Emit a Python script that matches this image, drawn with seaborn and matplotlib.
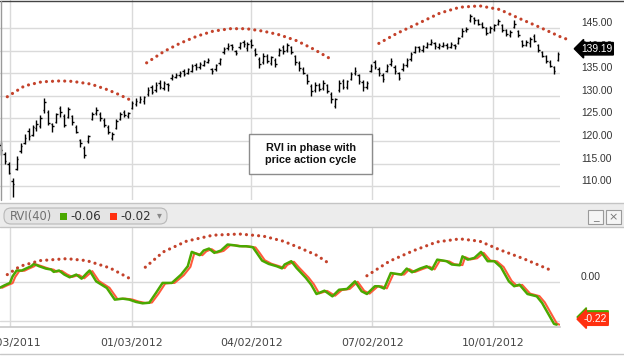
import numpy as np
import pandas as pd
import matplotlib
matplotlib.use("Agg")
import matplotlib.pyplot as plt
import matplotlib.transforms as mtransforms
from matplotlib.patches import Rectangle, FancyBboxPatch
from matplotlib.lines import Line2D
import seaborn as sns


# x axis unit: calendar days after this date
START = pd.Timestamp("2011-09-25")
tick_dates = ["10/03/2011", "01/03/2012", "04/02/2012", "07/02/2012", "10/01/2012"]
price_ticks = [110, 115, 120, 125, 130, 135, 140, 145]

# price bars (one every 3 days)
bar_open = [
    119.2, 117.2, 115.0, 111.2, 113.9, 117.8, 119.6, 122.2, 121.4, 122.8,
    123.4, 126.8, 126.4, 123.7, 124.3, 127.2, 125.6, 125.3, 125.5, 123.2,
    120.2, 118.5, 119.9, 124.9, 126.1, 126.0, 124.7, 123.2, 120.7, 122.9,
    124.9, 126.5, 125.6, 127.3, 128.1, 128.7, 128.8, 130.4, 131.9, 131.2,
    132.9, 131.7, 132.6, 133.9, 134.2, 134.5, 135.4, 135.1, 135.6, 136.9,
    136.3, 136.9, 137.5, 135.9, 135.9, 137.2, 139.6, 140.5, 141.2, 139.9,
    140.7, 141.8, 140.5, 142.1, 140.2, 138.2, 137.4, 138.8, 137.2, 138.0,
    139.1, 140.7, 140.2, 140.8, 138.7, 137.2, 136.0, 134.6, 132.2, 131.2,
    132.4, 131.7, 132.3, 130.5, 127.7, 131.2, 133.3, 132.0, 133.8, 135.0,
    134.5, 133.0, 131.9, 135.6, 137.4, 136.0, 134.7, 135.6, 137.0, 136.4,
    135.0, 135.9, 136.8, 138.2, 139.7, 140.8, 140.2, 140.9, 141.5, 141.6,
    140.8, 141.1, 141.3, 140.9, 141.3, 141.7, 143.3, 144.5, 146.8, 147.2,
    146.7, 146.0, 145.0, 144.1, 144.8, 145.9, 145.6, 144.5, 143.4, 145.2,
    144.4, 142.2, 141.3, 141.6, 143.2, 141.3, 139.8, 138.7, 137.5, 136.4,
    137.9,
]
bar_low = [
    117.0, 115.0, 112.6, 107.7, 113.5, 117.4, 119.3, 120.3, 121.0, 122.3,
    122.8, 126.3, 123.5, 121.9, 124.0, 125.4, 123.0, 125.0, 123.6, 121.8,
    118.6, 116.3, 119.6, 124.6, 125.8, 124.4, 123.2, 121.5, 120.3, 122.6,
    124.6, 125.4, 125.2, 127.0, 127.8, 128.4, 128.3, 130.0, 130.3, 130.8,
    131.6, 131.3, 131.1, 133.6, 133.9, 134.2, 134.4, 134.8, 135.3, 135.7,
    136.0, 136.6, 137.2, 134.9, 135.6, 136.9, 139.3, 140.1, 140.2, 139.0,
    140.4, 140.9, 140.0, 140.6, 138.8, 136.2, 137.0, 137.2, 136.8, 136.4,
    138.8, 139.3, 139.8, 139.3, 136.8, 135.6, 134.8, 132.6, 130.0, 130.8,
    131.0, 131.3, 130.6, 128.5, 127.2, 130.8, 131.5, 131.6, 133.4, 134.6,
    132.6, 131.1, 131.5, 135.3, 136.0, 134.4, 133.0, 135.3, 136.6, 134.8,
    133.4, 135.6, 136.4, 137.8, 139.4, 139.7, 139.8, 140.6, 141.2, 140.4,
    140.4, 140.8, 140.4, 140.6, 140.4, 141.4, 143.0, 144.1, 146.4, 146.0,
    145.6, 144.9, 143.4, 143.8, 144.3, 145.6, 144.2, 143.2, 143.0, 144.9,
    143.0, 140.8, 141.0, 140.9, 141.9, 139.8, 138.6, 137.2, 136.3, 134.9,
    137.6,
]
bar_high = [
    119.7, 117.5, 115.4, 111.8, 116.6, 119.6, 121.5, 122.8, 123.5, 124.6,
    125.8, 129.5, 126.9, 124.0, 126.3, 127.8, 126.0, 127.6, 125.8, 123.6,
    120.5, 118.9, 121.4, 126.5, 127.6, 126.4, 125.0, 123.5, 122.0, 124.8,
    126.5, 126.9, 126.5, 128.8, 129.5, 129.9, 130.0, 131.9, 132.4, 133.0,
    133.4, 133.2, 132.9, 134.9, 135.0, 135.6, 135.9, 136.2, 137.0, 137.2,
    137.5, 138.0, 138.4, 136.2, 137.0, 138.4, 140.9, 141.6, 141.5, 140.2,
    141.9, 142.3, 142.0, 142.6, 140.6, 138.6, 139.4, 139.3, 138.9, 138.3,
    140.6, 141.3, 141.6, 141.0, 139.0, 137.6, 136.4, 134.9, 132.6, 133.0,
    132.8, 133.4, 132.6, 130.8, 129.6, 133.4, 133.8, 133.6, 135.3, 136.4,
    134.9, 133.4, 133.2, 137.1, 137.9, 136.4, 135.0, 137.0, 138.3, 136.8,
    135.3, 137.2, 138.4, 139.8, 141.0, 141.1, 141.3, 142.0, 142.6, 141.8,
    141.6, 141.9, 141.6, 141.9, 141.5, 143.0, 144.9, 145.2, 148.2, 147.4,
    147.0, 146.4, 145.2, 145.4, 146.0, 147.1, 145.8, 144.8, 144.5, 146.7,
    144.6, 142.4, 142.3, 143.0, 143.7, 141.5, 140.0, 139.0, 137.9, 136.7,
    139.7,
]
bar_close = [
    118.0, 115.6, 113.0, 110.5, 116.0, 119.0, 120.6, 121.0, 123.0, 123.8,
    125.2, 128.6, 124.0, 123.4, 125.9, 126.5, 123.6, 127.0, 124.2, 122.0,
    119.5, 116.8, 121.0, 126.0, 126.9, 125.0, 123.6, 122.0, 121.6, 124.4,
    126.0, 125.8, 126.2, 128.4, 128.9, 129.2, 129.8, 131.3, 130.8, 132.5,
    132.0, 132.8, 132.5, 134.4, 134.6, 135.1, 134.9, 135.9, 136.6, 136.4,
    137.1, 137.6, 138.0, 135.4, 136.8, 138.1, 140.4, 141.0, 140.7, 139.5,
    141.6, 141.4, 141.5, 141.2, 139.3, 137.0, 138.9, 137.8, 138.5, 137.0,
    140.2, 140.0, 141.2, 139.8, 137.4, 136.2, 135.1, 133.2, 131.0, 132.4,
    131.5, 132.9, 131.0, 129.2, 129.3, 132.8, 132.0, 133.2, 134.8, 135.4,
    133.2, 132.0, 132.8, 136.7, 136.4, 135.0, 133.8, 136.5, 137.6, 135.4,
    134.0, 136.9, 137.9, 139.2, 140.7, 140.3, 141.0, 141.5, 141.8, 141.0,
    141.2, 141.3, 140.8, 141.5, 141.0, 142.8, 144.4, 144.8, 147.6, 146.8,
    146.0, 145.3, 144.0, 145.0, 145.6, 146.5, 144.6, 143.6, 144.2, 146.0,
    143.4, 141.2, 141.8, 142.6, 142.2, 140.1, 138.9, 137.6, 136.6, 135.6,
    139.19,
]
bar_day = np.arange(1, 1 + 3 * len(bar_low), 3)

# RVI(40) (green) and its signal line (red)
rvi_day = [0, 4, 8, 10, 13, 17, 20, 24, 26, 30, 35, 39, 41, 45, 49, 53, 58, 62, 66, 68,
           73, 81, 87, 93, 98, 103, 108, 113, 118, 123, 127, 130, 137, 142, 145, 151, 154, 158, 162, 167,
           172, 177, 181, 186, 191, 194, 198, 203, 209, 213, 215, 220, 224, 231, 235, 239, 245, 251, 256, 262,
           268, 273, 277, 283, 286, 290, 295, 303, 307, 311, 317, 322, 326, 330, 337, 341, 347, 349, 353, 358,
           363, 368, 373, 378, 384, 388, 392, 398, 405, 409, 414, 418, 420]
rvi_val = [-0.031, -0.017, -0.005, 0.029, 0.059, 0.059, 0.069, 0.081, 0.093, 0.081,
           0.069, 0.064, 0.052, 0.059, 0.038, 0.024, 0.038, 0.017, 0.046, 0.059,
           0.003, -0.031, -0.091, -0.086, -0.091, -0.103, -0.110, -0.107, -0.057, -0.005,
           -0.005, -0.005, 0.038, 0.081, 0.155, 0.138, 0.162, 0.172, 0.150, 0.162,
           0.193, 0.189, 0.184, 0.184, 0.179, 0.150, 0.110, 0.093, 0.081, 0.070,
           0.090, 0.107, 0.072, 0.021, -0.014, -0.062, -0.045, -0.074, -0.040, -0.036,
           0.003, -0.048, -0.062, -0.022, -0.022, -0.034, 0.046, 0.038, 0.069, 0.050,
           0.069, 0.081, 0.064, 0.115, 0.107, 0.090, 0.086, 0.132, 0.115, 0.124,
           0.155, 0.107, 0.107, 0.076, 0.003, -0.022, -0.014, -0.062, -0.074, -0.108,
           -0.168, -0.216, -0.220]
sig_day = [2, 6, 10, 12, 15, 19, 22, 26, 28, 32, 37, 41, 43, 47, 51, 55, 60, 64, 68, 70,
           75, 83, 89, 95, 100, 105, 110, 115, 120, 125, 129, 132, 139, 144, 147, 153, 156, 160, 164, 169,
           174, 179, 183, 188, 193, 196, 200, 205, 211, 215, 217, 222, 226, 233, 237, 241, 247, 253, 258, 264,
           270, 275, 279, 285, 288, 292, 297, 305, 309, 313, 319, 324, 328, 332, 339, 343, 349, 351, 355, 360,
           365, 370, 375, 380, 386, 390, 394, 400, 407, 411, 416, 420, 422]
sig_val = [-0.030, -0.017, -0.006, 0.026, 0.056, 0.058, 0.068, 0.080, 0.090, 0.081,
           0.069, 0.063, 0.053, 0.057, 0.039, 0.026, 0.036, 0.019, 0.043, 0.056,
           0.005, -0.030, -0.088, -0.086, -0.090, -0.101, -0.108, -0.106, -0.060, -0.008,
           -0.005, -0.005, 0.035, 0.078, 0.150, 0.138, 0.158, 0.169, 0.151, 0.160,
           0.190, 0.188, 0.184, 0.183, 0.178, 0.151, 0.112, 0.094, 0.081, 0.071,
           0.088, 0.104, 0.073, 0.023, -0.012, -0.059, -0.046, -0.071, -0.042, -0.036,
           0.001, -0.046, -0.060, -0.024, -0.022, -0.033, 0.042, 0.038, 0.066, 0.051,
           0.067, 0.079, 0.065, 0.111, 0.106, 0.091, 0.087, 0.128, 0.116, 0.122,
           0.150, 0.110, 0.106, 0.077, 0.006, -0.020, -0.015, -0.060, -0.073, -0.105,
           -0.165, -0.213, -0.220]

# dotted cycle arcs drawn by hand on the chart
arc_price = [
    ([6, 19, 32, 46, 55, 69, 82, 90, 98.5],
     [129.8, 132.2, 133.1, 133.3, 133.2, 132.6, 131.3, 130.3, 129.1]),
    ([111, 124, 136, 149, 161, 174, 186, 199, 211, 224, 237, 250],
     [137.3, 139.8, 141.6, 143.2, 144.3, 144.85, 144.85, 144.3, 143.5, 142.2, 140.3, 138.1]),
    ([286, 299.5, 317, 332, 347, 362, 377, 392, 407, 422.5, 427],
     [141.6, 143.8, 146.2, 148.3, 149.6, 149.9, 149.1, 147.1, 145.2, 143.1, 142.6]),
]
arc_rvi = [
    ([6, 15.6, 30.6, 50.8, 65.8, 83.4, 98.5],
     [0.038, 0.081, 0.110, 0.120, 0.110, 0.072, 0.017]),
    ([110, 123.6, 141, 161, 181, 199, 214, 226.6, 239, 249],
     [0.076, 0.155, 0.210, 0.241, 0.247, 0.236, 0.210, 0.175, 0.138, 0.093]),
    ([277, 294, 312, 329.6, 347, 362, 377, 395, 417.5],
     [0.032, 0.107, 0.161, 0.206, 0.222, 0.210, 0.166, 0.120, 0.055]),
]

tick_day = [(pd.to_datetime(d, format="%m/%d/%Y") - START).days for d in tick_dates]

sns.set_theme(style="white")
plt.rcParams["font.family"] = ["DejaVu Sans"]

W, H = 624, 357
GRID = "#dadada"
DOT = "#c4422b"


def fx(px):
    return px / W


def fy(py):
    return 1 - py / H


fig = plt.figure(figsize=(6.24, 3.57), dpi=100)
fig.patch.set_facecolor("white")
pix = fig.dpi_scale_trans  # inches, so pixel/100

# ---- upper panel: price bars ----
ax1 = fig.add_axes([fx(0), fy(200), fx(560), 200 / H])
ax1.set_facecolor("white")
ax1.vlines(bar_day, bar_low, bar_high, color="black", lw=1.0)
ax1.hlines(bar_open, bar_day - 1.1, bar_day, color="black", lw=1.0)
ax1.hlines(bar_close, bar_day, bar_day + 1.1, color="black", lw=1.0)
ax1.set_xlim(0.5, 422.5)
ax1.set_ylim(106.95, 151.2)
ax1.set_xticks(tick_day)
ax1.set_yticks(price_ticks)
ax1.set_yticklabels([f"{v:.2f}" for v in price_ticks])
ax1.grid(True, color=GRID, lw=1.0)
ax1.set_axisbelow(True)
ax1.yaxis.tick_right()
ax1.tick_params(axis="x", length=0, labelbottom=False)
ax1.tick_params(axis="y", length=0, pad=15, labelsize=7.4, labelcolor="#333333")
for lbl in ax1.get_yticklabels():
    lbl.set_family("Liberation Sans")
    lbl.set_va("bottom")
for s in ax1.spines.values():
    s.set_visible(False)
for xs, ys in arc_price:
    ax1.plot(xs, ys, color=DOT, lw=2.3, linestyle=(0, (0.01, 1.9)),
             dash_capstyle="round", clip_on=False, zorder=4)

right1 = mtransforms.blended_transform_factory(ax1.transAxes, ax1.transData)
ax1.annotate("139.19", xy=(1, 139.19), xycoords=right1, xytext=(15, 4), textcoords="offset points",
             ha="left", va="center", color="white", fontsize=7.4, family="Liberation Sans",
             bbox=dict(boxstyle="larrow,pad=0.12", fc="black", ec="black"))

# ---- lower panel: RVI ----
ax2 = fig.add_axes([fx(0), fy(327), fx(560), 99 / H])
ax2.set_facecolor("white")
sns.lineplot(x=sig_day, y=sig_val, ax=ax2, color="#ff5a3c", lw=1.5, sort=False)
sns.lineplot(x=rvi_day, y=rvi_val, ax=ax2, color="#4aa800", lw=1.8, sort=False)
for xs, ys in arc_rvi:
    ax2.plot(xs, ys, color=DOT, lw=2.3, linestyle=(0, (0.01, 1.9)),
             dash_capstyle="round", clip_on=False, zorder=4)
ax2.set_xlim(0.5, 422.5)
ax2.set_ylim(-0.232, 0.278)
ax2.set_xticks(tick_day)
ax2.set_xticklabels(tick_dates)
ax2.set_yticks([-0.2, 0.0])
ax2.set_yticklabels(["", "0.00"])
ax2.grid(True, color=GRID, lw=1.0)
ax2.set_axisbelow(True)
ax2.yaxis.tick_right()
ax2.tick_params(axis="x", length=0, pad=8, labelsize=7.8, labelcolor="#444444")
ax2.tick_params(axis="y", length=0, pad=14.5, labelsize=7.4, labelcolor="#333333")
for lbl in ax2.get_yticklabels():
    lbl.set_family("Liberation Sans")
    lbl.set_va("bottom")
for name, s in ax2.spines.items():
    s.set_visible(name == "bottom")
ax2.spines["bottom"].set_color("#c8c8c8")
ax2.spines["bottom"].set_linewidth(1.2)

right2 = mtransforms.blended_transform_factory(ax2.transAxes, ax2.transData)
ax2.annotate("-0.22", xy=(1, -0.22), xycoords=right2, xytext=(17, 5.5), textcoords="offset points",
             ha="left", va="center", color="#4aa800", fontsize=7.4, family="Liberation Sans",
             bbox=dict(boxstyle="larrow,pad=0.12", fc="#4aa800", ec="#4aa800"))
ax2.annotate("-0.22", xy=(1, -0.22), xycoords=right2, xytext=(17, 4), textcoords="offset points",
             ha="left", va="center", color="white", fontsize=7.4, family="Liberation Sans",
             bbox=dict(boxstyle="larrow,pad=0.12", fc="#ff3010", ec="#ff3010"))

# ---- header strip of the RVI pane ----
fig.patches.append(Rectangle((0, (H - 227) / 100), W / 100, 24 / 100, transform=pix,
                             fc="#ececec", ec="none", zorder=0))
for py, c in [(203, "#c4c4c4"), (227, "#c4c4c4"), (1, "#444444"), (354, "#c8c8c8")]:
    fig.lines.append(Line2D([0, W / 100], [(H - py) / 100] * 2, transform=pix, color=c, lw=1.0))
fig.lines.append(Line2D([0.005, 0.005], [(H - 200) / 100, (H - 1) / 100], transform=pix,
                        color="#9a9a9a", lw=1.0))
fig.patches.append(FancyBboxPatch((4 / 100, (H - 224) / 100), 163 / 100, 16 / 100, transform=pix,
                                  boxstyle="round,pad=0,rounding_size=0.07",
                                  fc="#e4e4e4", ec="#b8b8b8", lw=0.8))
fig.text(fx(10), fy(216.5), "RVI(40)", ha="left", va="center", fontsize=8.3, color="#707070")
fig.patches.append(Rectangle((60 / 100, (H - 220) / 100), 7 / 100, 7 / 100, transform=pix,
                             fc="#4aa800", ec="none"))
fig.text(fx(70), fy(216.5), "-0.06", ha="left", va="center", fontsize=8.6, color="#333333")
fig.patches.append(Rectangle((110 / 100, (H - 220) / 100), 7 / 100, 7 / 100, transform=pix,
                             fc="#ff3010", ec="none"))
fig.text(fx(120), fy(216.5), "-0.02", ha="left", va="center", fontsize=8.6, color="#333333")
fig.text(fx(159.5), fy(215.5), "▾", ha="center", va="center", fontsize=7, color="#888888")
for bx, glyph in [(588, "_"), (606, "×")]:
    fig.patches.append(Rectangle((bx / 100, (H - 224) / 100), 15 / 100, 14 / 100, transform=pix,
                                 fc="#f5f5f5", ec="#9a9a9a", lw=0.8))
    fig.text(fx(bx + 7.5), fy(217.5), glyph, ha="center", va="center", fontsize=8, color="#777777")

# ---- note box ----
fig.patches.append(Rectangle((249 / 100, (H - 174) / 100), 123 / 100, 40 / 100, transform=pix,
                             fc="white", ec="#8c8c8c", lw=1.0, zorder=5))
fig.text(fx(310.5), fy(154), "RVI in phase with\nprice action cycle", ha="center", va="center",
         fontsize=7.8, fontweight="bold", family="Liberation Sans", linespacing=1.35,
         color="#111111", zorder=6)

fig.savefig("out.png", dpi=100)
